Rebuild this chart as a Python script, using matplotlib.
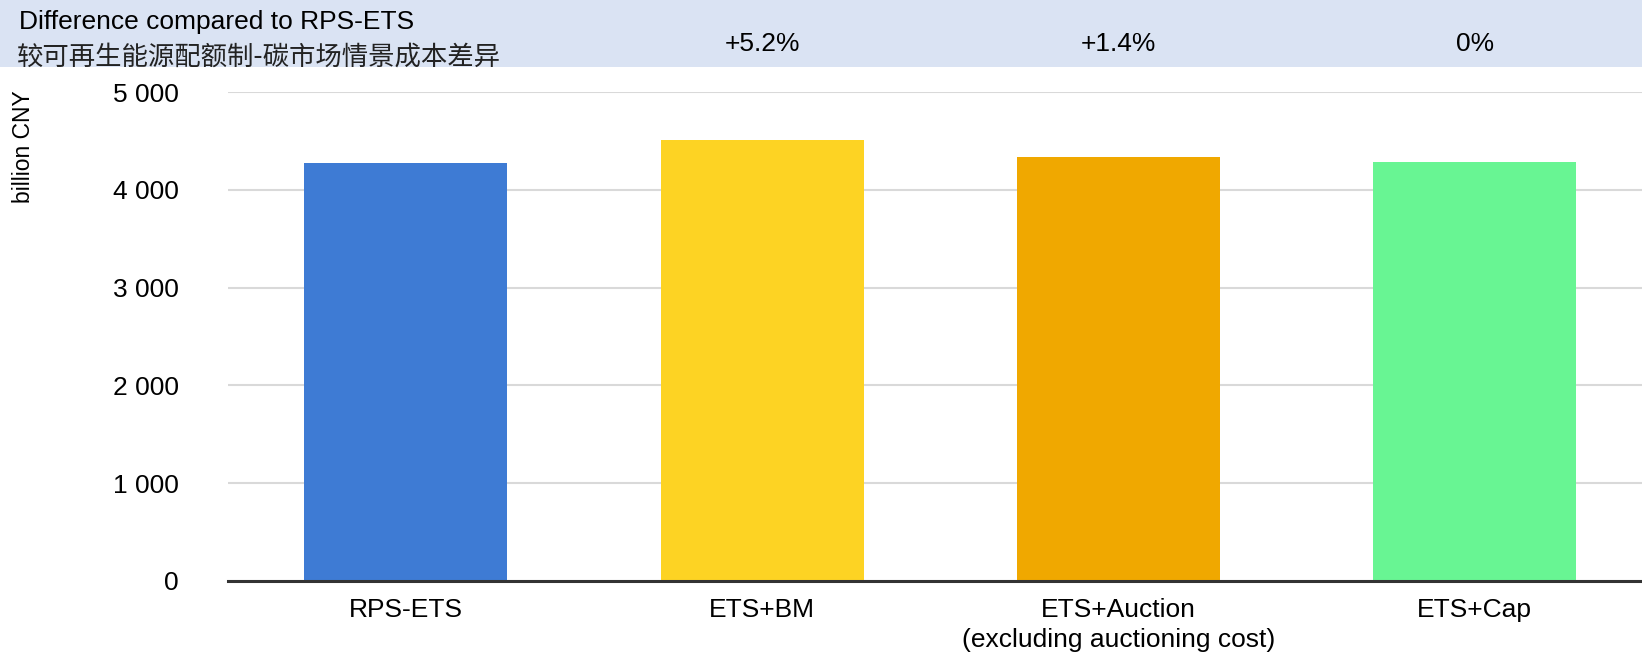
import numpy as np
import matplotlib.pyplot as plt
from matplotlib.patches import Rectangle
import matplotlib.transforms as mtransforms

plt.rcParams['font.family'] = ['Liberation Sans', 'DejaVu Sans']

categories = ['RPS-ETS', 'ETS+BM', 'ETS+Auction\n(excluding auctioning cost)', 'ETS+Cap']
costs = [4270, 4505, 4340, 4285]
diff_labels = ['', '+5.2%', '+1.4%', '0%']
colors = ['#3e7bd4', '#fdd323', '#f0a800', '#68f593']
yticks = [0, 1000, 2000, 3000, 4000, 5000]
ytick_labels = ['0', '1 000', '2 000', '3 000', '4 000', '5 000']

W, H = 1642, 652
fig = plt.figure(figsize=(W / 100, H / 100), dpi=100)

# top band with percentage differences
band_h = 67
fig.add_artist(Rectangle((0, 1 - band_h / H), 1, band_h / H, transform=fig.transFigure,
                         facecolor='#dae3f3', edgecolor='none', zorder=0))
fig.text(19 / W, 1 - 21.5 / H, 'Difference compared to RPS-ETS', fontsize=19, va='center', ha='left')
fig.text(17 / W, 1 - 57 / H, '较可再生能源配额制-碳市场情景成本差异', fontsize=19, va='center', ha='left',
         family=['Noto Sans CJK SC', 'DejaVu Sans'], fontweight='light', color='#222222')

left, right = 227.6, 1653
bottom, top = 581, 92
ax = fig.add_axes([left / W, 1 - bottom / H, (right - left) / W, (bottom - top) / H])

x = np.arange(len(categories))
ax.bar(x, costs, width=0.57, color=colors, zorder=2)
ax.set_xlim(-0.5, len(categories) - 0.5)
ax.set_ylim(0, 5000)
ax.set_yticks(yticks)
ax.set_yticklabels(ytick_labels, fontsize=19)
ax.set_xticks(x)
ax.set_xticklabels(categories, fontsize=19, linespacing=1.35)
ax.tick_params(axis='both', length=0)
ax.tick_params(axis='y', pad=35)
ax.tick_params(axis='x', pad=12)
ax.grid(axis='y', color='#d9d9d9', linewidth=1.5)
ax.set_axisbelow(True)
for s in ['top', 'right', 'left']:
    ax.spines[s].set_visible(False)
ax.spines['bottom'].set_color('#333333')
ax.spines['bottom'].set_linewidth(2.2)
ax.spines['bottom'].set_zorder(3)

trans = mtransforms.blended_transform_factory(ax.transData, fig.transFigure)
for xi, lab in zip(x, diff_labels):
    if lab:
        fig.text(xi, 1 - 44 / H, lab, transform=trans, ha='center', va='center', fontsize=19)

fig.text(23 / W, 1 - 147 / H, 'billion CNY', rotation=90, ha='center', va='center', fontsize=16.5)

fig.savefig('out.png', dpi=100)
